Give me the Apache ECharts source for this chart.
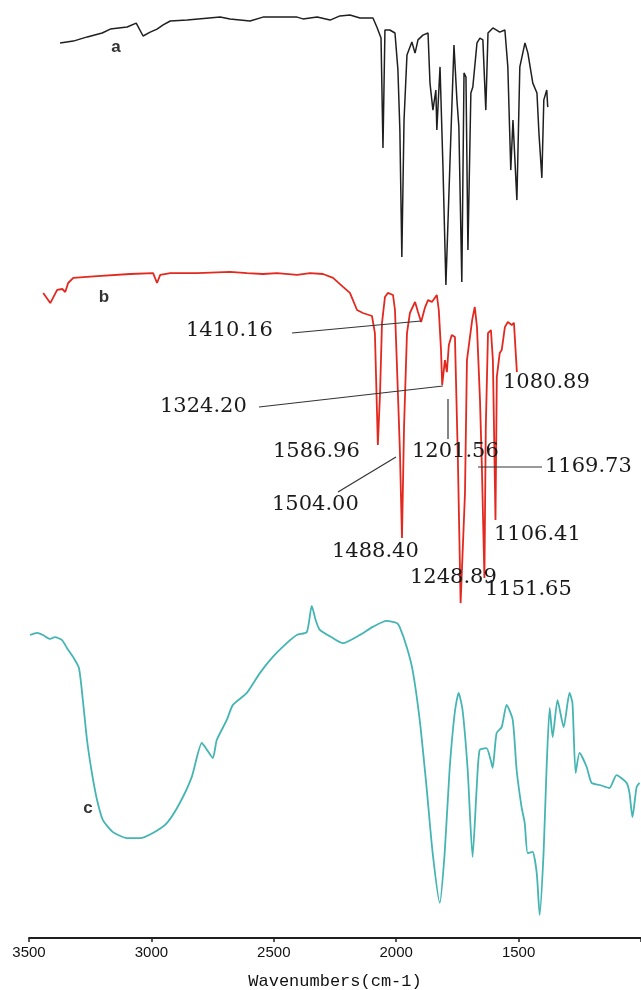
<!DOCTYPE html>
<html>
<head>
<meta charset="utf-8">
<script src="https://cdn.jsdelivr.net/npm/echarts@6/dist/echarts.min.js"></script>
<style>
  html, body { margin: 0; padding: 0; background: #ffffff; }
  #chart { width: 641px; height: 990px; }
</style>
</head>
<body>
<div id="chart"></div>
<script>
// FT-IR spectra a, b, c — transmittance against wavenumber (cm-1), stacked panels.

// Tick labels of the wavenumber axis
const tickLabels = [3500, 3000, 2500, 2000, 1500];

// Spectrum a (black)
const waveA = [2885, 2831, 2774, 2713, 2680, 2611, 2574, 2546, 2517, 2489,
  2464, 2435, 2366, 2231, 2191, 2109, 2056, 1917, 1893, 1835,
  1782, 1742, 1701, 1660, 1607, 1591, 1574, 1566, 1558, 1538,
  1517, 1505, 1497, 1489, 1480, 1468, 1448, 1435, 1423, 1403,
  1382, 1374, 1362, 1350, 1346, 1333, 1321, 1309, 1293, 1276,
  1264, 1256, 1244, 1235, 1227, 1219, 1207, 1199, 1182, 1170,
  1158, 1146, 1137, 1117, 1089, 1068, 1056, 1044, 1035, 1019,
  1007, 986, 974, 954, 937, 929, 917, 909, 897, 893];
const transA = [85.7, 86.3, 87.7, 89.0, 90.3, 91.0, 92.3, 88.0, 89.3, 90.3,
  91.7, 93.0, 93.3, 94.3, 93.7, 93.0, 94.3, 94.3, 93.7, 94.3,
  93.3, 94.7, 95.0, 94.0, 94.0, 91.0, 87.3, 50.7, 90.0, 90.0,
  89.0, 76.7, 56.7, 14.3, 60.0, 81.7, 86.0, 82.3, 86.7, 88.3,
  89.0, 72.3, 63.3, 70.0, 56.7, 77.7, 44.3, 5.0, 44.3, 85.0,
  66.7, 57.7, 6.0, 75.7, 74.3, 16.7, 69.0, 71.0, 85.7, 87.3,
  86.7, 63.3, 89.0, 90.7, 89.3, 90.0, 77.7, 43.3, 60.0, 33.3,
  77.7, 85.7, 82.3, 72.3, 69.0, 55.7, 40.7, 66.7, 70.0, 64.3];

// Spectrum b (red)
const waveB = [2954, 2925, 2897, 2876, 2864, 2852, 2831, 2733, 2599, 2505,
  2489, 2476, 2435, 2325, 2191, 2121, 2056, 1999, 1917, 1864,
  1811, 1770, 1729, 1701, 1672, 1648, 1611, 1599, 1591, 1586.96,
  1578, 1570, 1558, 1546, 1525, 1517, 1504.00, 1497, 1488.40, 1480,
  1468, 1456, 1435, 1423, 1410.16, 1395, 1382, 1366, 1346, 1338,
  1329, 1324.20, 1313, 1305, 1297, 1285, 1272, 1260, 1248.89, 1231,
  1223, 1201.56, 1191, 1182, 1169.73, 1162, 1151.65, 1146, 1137, 1125,
  1117, 1106.41, 1101, 1089, 1080.89, 1068, 1056, 1040, 1031, 1019];
const transB = [105.7, 102.3, 106.7, 107.0, 106.0, 109.0, 110.7, 111.3, 112.0, 112.3,
  109.0, 111.7, 112.3, 112.3, 112.7, 112.3, 112.0, 112.3, 111.7, 112.3,
  112.0, 110.7, 107.7, 105.7, 100.0, 99.0, 98.0, 92.3, 67.7, 55.0,
  72.3, 95.7, 104.3, 105.7, 105.0, 100.0, 70.0, 53.3, 24.0, 61.0,
  92.3, 99.0, 102.7, 99.3, 96.0, 100.7, 103.3, 102.7, 105.0, 100.0,
  86.7, 75.0, 83.3, 79.3, 88.3, 91.7, 91.0, 50.0, 2.3, 39.0,
  83.3, 96.7, 101.0, 94.3, 70.0, 47.7, 10.7, 61.0, 92.3, 93.3,
  83.3, 30.0, 77.7, 85.7, 86.7, 94.3, 96.0, 95.0, 95.7, 79.3];

// Spectrum c (teal)
const waveC = [3496, 3467, 3443, 3414, 3394, 3365, 3345, 3320, 3296, 3280,
  3263, 3243, 3222, 3198, 3157, 3100, 3047, 2994, 2937, 2884,
  2835, 2794, 2773, 2749, 2733, 2692, 2667, 2610, 2557, 2504,
  2447, 2406, 2365, 2345, 2329, 2312, 2259, 2218, 2149, 2096,
  2039, 1998, 1986, 1957, 1933, 1904, 1876, 1851, 1822, 1802,
  1782, 1761, 1745, 1729, 1708, 1688, 1671, 1659, 1631, 1614,
  1606, 1590, 1569, 1549, 1524, 1508, 1488, 1475, 1463, 1443,
  1426, 1414, 1398, 1386, 1373, 1361, 1341, 1316, 1292, 1280,
  1267, 1251, 1222, 1202, 1169, 1129, 1100, 1059, 1047, 1035,
  1018, 1006];
const transC = [101.0, 101.7, 101.0, 99.7, 100.3, 99.3, 96.7, 93.7, 90.0, 79.3,
  66.0, 55.0, 46.0, 39.3, 35.3, 33.3, 33.3, 35.0, 38.3, 45.0,
  53.7, 65.0, 62.7, 60.0, 66.0, 72.7, 77.7, 81.7, 88.3, 93.7,
  98.3, 101.0, 102.0, 110.7, 106.0, 102.7, 100.0, 98.3, 101.0, 103.7,
  105.7, 105.0, 103.7, 97.0, 89.3, 72.7, 50.3, 28.3, 11.7, 28.3,
  56.0, 75.0, 81.7, 76.0, 56.0, 27.0, 50.3, 62.7, 63.3, 59.3,
  56.7, 68.3, 70.3, 77.7, 72.7, 56.0, 43.7, 38.3, 28.3, 28.7,
  21.7, 7.7, 28.3, 56.0, 76.7, 67.0, 79.3, 70.3, 81.7, 78.3,
  55.0, 61.7, 57.0, 51.7, 51.0, 50.0, 54.3, 51.7, 48.3, 40.3,
  50.3, 51.7];

// Peak assignments written beside spectrum b
const peakNames = ['1410.16', '1324.20', '1586.96', '1201.56', '1080.89',
  '1169.73', '1504.00', '1106.41', '1488.40', '1151.65', '1248.89'];

// Where each peak label sits (left edge, vertical centre)
const peakLabelAt = [[186, 331], [160, 407], [273, 452], [412, 452], [503, 383],
  [545, 467], [272, 505], [494, 535], [332, 552], [485, 590], [410, 578]];

// Leader lines from labels to peaks
const leaders = [
  [292, 333, 421, 321],
  [259, 407, 443, 386],
  [338, 492, 396, 457],
  [448, 399, 448, 439],
  [478, 467, 542, 467]
];

// Trace letters
const traceNames = ['a', 'b', 'c'];
const traceNameAt = [[116, 47], [104, 297], [88, 808]];

const pair = (xs, ys) => xs.map((x, i) => [x, ys[i]]);

const chart = echarts.init(document.getElementById('chart'));

const graphics = [];
peakNames.forEach((t, i) => {
  graphics.push({
    type: 'text', x: peakLabelAt[i][0], y: peakLabelAt[i][1], z: 100,
    style: { text: t, fill: '#1a1a1a', font: '21px "DejaVu Serif"', align: 'left', verticalAlign: 'middle' }
  });
});
leaders.forEach(l => {
  graphics.push({
    type: 'line', z: 99,
    shape: { x1: l[0], y1: l[1], x2: l[2], y2: l[3] },
    style: { stroke: '#333333', lineWidth: 1.2 }
  });
});
traceNames.forEach((t, i) => {
  graphics.push({
    type: 'text', x: traceNameAt[i][0], y: traceNameAt[i][1], z: 100,
    style: { text: t, fill: '#333333', font: 'bold 17px "Liberation Sans"', align: 'center', verticalAlign: 'middle' }
  });
});

const hiddenX = (gridIndex) => ({
  gridIndex, type: 'value', min: 512, max: 3012, inverse: true, show: false
});

chart.setOption({
  animation: false,
  backgroundColor: '#ffffff',
  grid: [
    { left: 29, right: 0, top: 0, height: 300, outerBoundsMode: 'none' },
    { left: 29, right: 0, top: 250, height: 360, outerBoundsMode: 'none' },
    { left: 29, right: 0, top: 593, height: 345, outerBoundsMode: 'none' }
  ],
  xAxis: [
    hiddenX(0),
    hiddenX(1),
    {
      gridIndex: 2, type: 'value', min: 1000, max: 3500, interval: 500, inverse: true,
      axisLine: { lineStyle: { color: '#1f1f1f', width: 1.8 } },
      axisTick: { length: 4, lineStyle: { color: '#1f1f1f', width: 1.5 } },
      splitLine: { show: false },
      axisLabel: {
        margin: 7, fontFamily: 'Liberation Sans', fontSize: 15, color: '#111111',
        formatter: v => (tickLabels.includes(v) ? String(v) : '')
      },
      name: 'Wavenumbers(cm-1)', nameLocation: 'middle', nameGap: 35,
      nameTextStyle: { fontFamily: 'Liberation Mono', fontSize: 17, color: '#111111' }
    }
  ],
  yAxis: [
    { gridIndex: 0, type: 'value', min: 0, max: 100, show: false },
    { gridIndex: 1, type: 'value', min: 0, max: 120, show: false },
    { gridIndex: 2, type: 'value', min: 0, max: 115, show: false }
  ],
  series: [
    {
      name: 'a', type: 'line', xAxisIndex: 0, yAxisIndex: 0, showSymbol: false, clip: false,
      data: pair(waveA, transA),
      lineStyle: { color: '#1f1f1f', width: 1.5 }
    },
    {
      name: 'b', type: 'line', xAxisIndex: 1, yAxisIndex: 1, showSymbol: false, clip: false,
      data: pair(waveB, transB),
      lineStyle: { color: '#e3291f', width: 1.8 }
    },
    {
      name: 'c', type: 'line', xAxisIndex: 2, yAxisIndex: 2, showSymbol: false, clip: false,
      smooth: 0.2,
      data: pair(waveC, transC),
      lineStyle: { color: '#45b5b3', width: 1.8 }
    }
  ],
  graphic: graphics
});
</script>
</body>
</html>
